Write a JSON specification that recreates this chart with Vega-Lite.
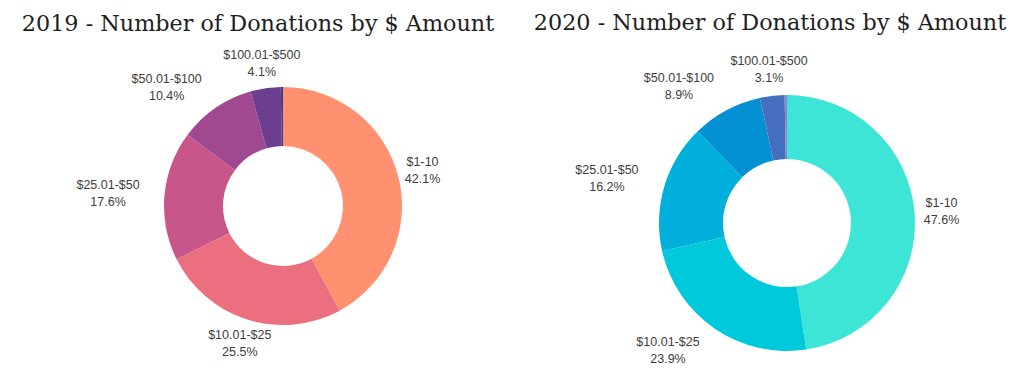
{
  "$schema": "https://vega.github.io/schema/vega-lite/v6.json",
  "padding": {"left": 0, "right": 0, "top": 12, "bottom": 0},
  "background": "white",
  "spacing": 0,
  "bounds": "flush",
  "config": {
    "view": {"stroke": null},
    "title": {"font": "DejaVu Serif", "fontSize": 22.3, "fontWeight": "normal", "color": "#1e1e1e", "frame": "group"}
  },
  "datasets": {
    "d": [
      {"year": 2019, "range": "$1-10", "ord": 1, "pct": 42.1, "label": "$1-10\n42.1%"},
      {"year": 2019, "range": "$10.01-$25", "ord": 2, "pct": 25.5, "label": "$10.01-$25\n25.5%"},
      {"year": 2019, "range": "$25.01-$50", "ord": 3, "pct": 17.6, "label": "$25.01-$50\n17.6%"},
      {"year": 2019, "range": "$50.01-$100", "ord": 4, "pct": 10.4, "label": "$50.01-$100\n10.4%"},
      {"year": 2019, "range": "$100.01-$500", "ord": 5, "pct": 4.1, "label": "$100.01-$500\n4.1%"},
      {"year": 2019, "range": ">$500", "ord": 6, "pct": 0.3, "label": ""},
      {"year": 2020, "range": "$1-10", "ord": 1, "pct": 47.6, "label": "$1-10\n47.6%"},
      {"year": 2020, "range": "$10.01-$25", "ord": 2, "pct": 23.9, "label": "$10.01-$25\n23.9%"},
      {"year": 2020, "range": "$25.01-$50", "ord": 3, "pct": 16.2, "label": "$25.01-$50\n16.2%"},
      {"year": 2020, "range": "$50.01-$100", "ord": 4, "pct": 8.9, "label": "$50.01-$100\n8.9%"},
      {"year": 2020, "range": "$100.01-$500", "ord": 5, "pct": 3.1, "label": "$100.01-$500\n3.1%"},
      {"year": 2020, "range": ">$500", "ord": 6, "pct": 0.3, "label": ""}
    ]
  },
  "hconcat": [
    {
      "width": 566,
      "height": 272,
      "title": {"text": "2019 - Number of Donations by $ Amount", "dx": -25, "offset": 12},
      "data": {"name": "d"},
      "transform": [{"filter": "datum.year == 2019"}],
      "encoding": {
        "theta": {"field": "pct", "type": "quantitative", "stack": true},
        "order": {"field": "ord", "type": "quantitative"}
      },
      "layer": [
        {
          "mark": {"type": "arc", "outerRadius": 119, "innerRadius": 60},
          "encoding": {
            "color": {
              "field": "range", "type": "nominal", "legend": null,
              "scale": {
                "domain": ["$1-10", "$10.01-$25", "$25.01-$50", "$50.01-$100", "$100.01-$500", ">$500"],
                "range": ["#FF9171", "#EC6F80", "#C9568A", "#A04890", "#6B3E8F", "#3E3B8A"]
              }
            }
          }
        },
        {
          "mark": {"type": "text", "radius": 144, "font": "Liberation Sans", "fontSize": 12.5, "color": "#3d3d3d", "lineBreak": "\n", "lineHeight": 17, "baseline": "middle", "dy": -8.5,
            "dx": {"expr": "(datum.ord == 3 || datum.ord == 4) ? -length(datum.range) * 3.15 : 0"}},
          "encoding": {
            "detail": {"field": "range", "type": "nominal"},
            "text": {"field": "label", "type": "nominal"}
          }
        }
      ]
    },
    {
      "width": 442,
      "height": 306,
      "title": {"text": "2020 - Number of Donations by $ Amount", "dx": -17, "offset": 19},
      "data": {"name": "d"},
      "transform": [{"filter": "datum.year == 2020"}],
      "encoding": {
        "theta": {"field": "pct", "type": "quantitative", "stack": true},
        "order": {"field": "ord", "type": "quantitative"}
      },
      "layer": [
        {
          "mark": {"type": "arc", "outerRadius": 128, "innerRadius": 64},
          "encoding": {
            "color": {
              "field": "range", "type": "nominal", "legend": null,
              "scale": {
                "domain": ["$1-10", "$10.01-$25", "$25.01-$50", "$50.01-$100", "$100.01-$500", ">$500"],
                "range": ["#3CE5D5", "#00C9DB", "#00AFDB", "#0391D4", "#456EBF", "#8C82D2"]
              }
            }
          }
        },
        {
          "mark": {"type": "text", "radius": 155, "font": "Liberation Sans", "fontSize": 12.5, "color": "#3d3d3d", "lineBreak": "\n", "lineHeight": 17, "baseline": "middle", "dy": -8.5,
            "dx": {"expr": "(datum.ord >= 2 && datum.ord <= 4) ? -length(datum.range) * 3.15 : 0"}},
          "encoding": {
            "detail": {"field": "range", "type": "nominal"},
            "text": {"field": "label", "type": "nominal"}
          }
        }
      ]
    }
  ],
  "resolve": {"scale": {"color": "independent", "theta": "independent"}}
}
